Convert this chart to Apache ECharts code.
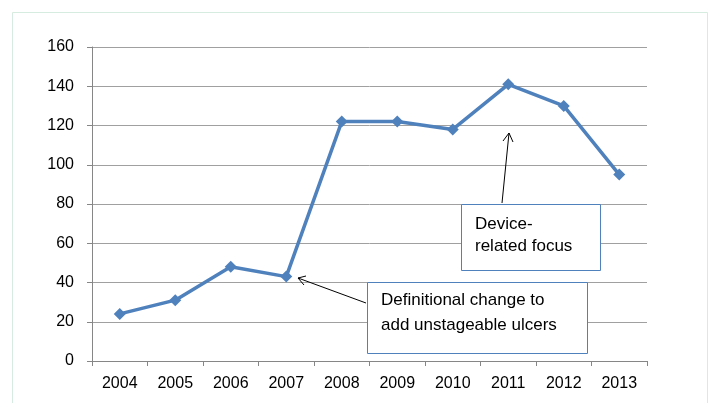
<!DOCTYPE html>
<html>
<head>
<meta charset="utf-8">
<script src="https://cdn.jsdelivr.net/npm/echarts@6/dist/echarts.min.js"></script>
<style>
  html, body { margin: 0; padding: 0; background: #fff; }
  #chart { width: 711px; height: 403px; }
</style>
</head>
<body>
<div id="chart"></div>
<script>
// values
const years = ['2004', '2005', '2006', '2007', '2008', '2009', '2010', '2011', '2012', '2013'];
const counts = [24, 31, 48, 43, 122, 122, 118, 141, 130, 95];
const yTicks = { min: 0, max: 160, step: 20 };

const FONT = '"Liberation Sans", "DejaVu Sans", sans-serif';
const BLUE = '#4f81bd';

let chart = echarts.init(document.getElementById('chart'));

let option = {
    animation: false,
    backgroundColor: '#fff',
    grid: { left: 92, right: 64, top: 47, bottom: 42 },
    xAxis: {
        type: 'category',
        data: years,
        boundaryGap: true,
        axisLine: { lineStyle: { color: '#868686', width: 1 } },
        axisTick: { show: true, length: 5, lineStyle: { color: '#868686' } },
        axisLabel: { color: '#000', fontFamily: FONT, fontSize: 16, margin: 15 },
        splitLine: { show: false }
    },
    yAxis: {
        type: 'value',
        min: yTicks.min,
        max: yTicks.max,
        interval: yTicks.step,
        axisLine: { show: true, lineStyle: { color: '#868686', width: 1 } },
        axisTick: { show: true, length: 5, lineStyle: { color: '#868686' } },
        axisLabel: { color: '#000', fontFamily: FONT, fontSize: 16, margin: 18 },
        splitLine: { show: true, lineStyle: { color: '#a0a0a0', width: 1 } }
    },
    series: [{
        type: 'line',
        data: counts,
        symbol: 'diamond',
        symbolSize: 12,
        lineStyle: { color: BLUE, width: 3.5 },
        itemStyle: { color: BLUE },
        z: 3
    }],
    graphic: [
        // outer frame
        { type: 'rect', shape: { x: 12.5, y: 12.5, width: 695, height: 400 },
          style: { fill: 'none', stroke: '#d6ece0', lineWidth: 1 }, silent: true },
        // box: device-related focus
        { type: 'rect', shape: { x: 461.5, y: 204.5, width: 139, height: 66 },
          style: { fill: '#fff', stroke: '#4f81bd', lineWidth: 1 }, z: 10 },
        { type: 'text', left: 475, top: 213, z: 11,
          style: { text: 'Device-\nrelated focus', font: '17px ' + FONT, fill: '#000', lineHeight: 22 } },
        // box: definitional change
        { type: 'rect', shape: { x: 367.5, y: 282.5, width: 220, height: 71 },
          style: { fill: '#fff', stroke: '#4f81bd', lineWidth: 1 }, z: 10 },
        { type: 'text', left: 381, top: 288, z: 11,
          style: { text: 'Definitional change to\nadd unstageable ulcers', font: '17px ' + FONT, fill: '#000', lineHeight: 25 } },
        // arrows
        { type: 'line', shape: { x1: 366, y1: 303, x2: 298, y2: 278 }, style: { stroke: '#000', lineWidth: 1 }, z: 12 },
        { type: 'polyline', shape: { points: [[306, 276], [298, 278], [304, 285]] }, style: { stroke: '#000', fill: 'none', lineWidth: 1 }, z: 12 },
        { type: 'line', shape: { x1: 502, y1: 203, x2: 509, y2: 133 }, style: { stroke: '#000', lineWidth: 1 }, z: 12 },
        { type: 'polyline', shape: { points: [[503, 141], [509, 133], [513, 142]] }, style: { stroke: '#000', fill: 'none', lineWidth: 1 }, z: 12 }
    ]
};

chart.setOption(option);
</script>
</body>
</html>
